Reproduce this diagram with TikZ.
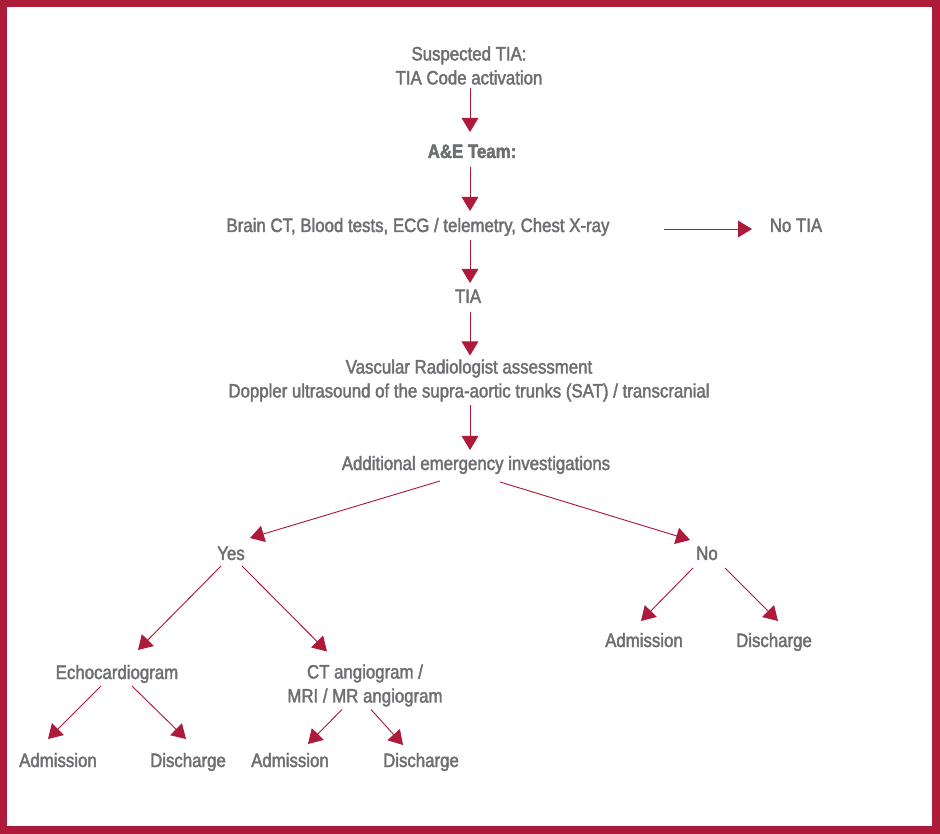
\documentclass[tikz,border=0pt]{standalone}
\usepackage{fontspec}
\setmainfont{Liberation Sans}[FakeStretch=0.87,FakeBold=2]
\usetikzlibrary{arrows.meta}
\usetikzlibrary{calc}
\definecolor{tiared}{HTML}{AE1A3A}
\definecolor{tiagrey}{HTML}{6D6E72}
\tikzstyle{lbl}=[text=tiagrey,inner sep=0pt,align=center,font=\fontsize{14.5}{18}\selectfont]
\tikzstyle{step1}=[lbl,anchor=base]
\tikzstyle{arr}=[tiared,line width=0.7pt,-{Triangle[length=10.5pt,width=12.5pt]}]

\begin{document}
\begin{tikzpicture}[x=0.75pt,y=-0.75pt]
\useasboundingbox (0,0) rectangle (940,834);
\fill[tiared] (0,0) rectangle (940,834);
\fill[white] (7,7) rectangle (932,826);

\node[lbl] (sus) at (469,65.5) {Suspected TIA:\\TIA Code activation};
\node[step1] (aeteam) at (472,158) {\bfseries A\&E Team:};
\node[step1] (tests) at (418,232) {Brain CT, Blood tests, ECG / telemetry, Chest X-ray};
\node[step1] (notia) at (796,232) {No TIA};
\node[step1] (tia) at (468,303) {TIA};
\node[lbl] (vasc) at (469,380.5) {Vascular Radiologist assessment\\Doppler ultrasound of the supra-aortic trunks (SAT) / transcranial};
\node[step1] (addinv) at (476,470) {Additional emergency investigations};

\node[step1] (yes) at (231,560) {Yes};
\node[step1] (no) at (707,560) {No};
\node[step1] (admno) at (644,647) {Admission};
\node[step1] (disno) at (774,647) {Discharge};

\node[step1] (echo) at (117,679) {Echocardiogram};
\node[lbl] (ctmri) at (365,685.5) {CT angiogram /\\MRI / MR angiogram};
\node[step1] (admecho) at (58,767) {Admission};
\node[step1] (disecho) at (188,767) {Discharge};
\node[step1] (admct) at (290,767) {Admission};
\node[step1] (disct) at (421,767) {Discharge};

% main column
\draw[arr] ($(sus)+(1,23)$) -- ($(aeteam.base)+(-2,-26)$);
\draw[arr] ($(aeteam.base)+(-2,9)$) -- ($(tests.base)+(52,-21)$);
\draw[arr] ($(tests.base)+(246,-3)$) -- ($(notia.base)+(-44,-3)$);
\draw[arr] ($(tests.base)+(52,8)$) -- ($(tia.base)+(2,-20)$);
\draw[arr] ($(tia.base)+(2,9)$) -- ($(vasc)+(1,-25)$);
\draw[arr] ($(vasc)+(1,25)$) -- ($(addinv.base)+(-6,-20)$);

% yes / no
\draw[arr] ($(addinv.base)+(-36,11)$) -- ($(yes.base)+(19,-22)$);
\draw[arr] ($(addinv.base)+(24,12)$) -- ($(no.base)+(-17,-20)$);
\draw[arr] ($(yes.base)+(-10,6)$) -- ($(echo.base)+(21,-29)$);
\draw[arr] ($(yes.base)+(11,6)$) -- ($(ctmri)+(-38,-34)$);
\draw[arr] ($(no.base)+(-14,8)$) -- ($(admno.base)+(-3,-26)$);
\draw[arr] ($(no.base)+(18,8)$) -- ($(disno.base)+(4,-26)$);

% bottom row
\draw[arr] ($(echo.base)+(-16,7)$) -- ($(admecho.base)+(-10,-28)$);
\draw[arr] ($(echo.base)+(15,7)$) -- ($(disecho.base)+(-2,-28)$);
\draw[arr] ($(ctmri)+(-23,24)$) -- ($(admct.base)+(18,-23)$);
\draw[arr] ($(ctmri)+(6,24)$) -- ($(disct.base)+(-18,-22)$);
\end{tikzpicture}
\end{document}
